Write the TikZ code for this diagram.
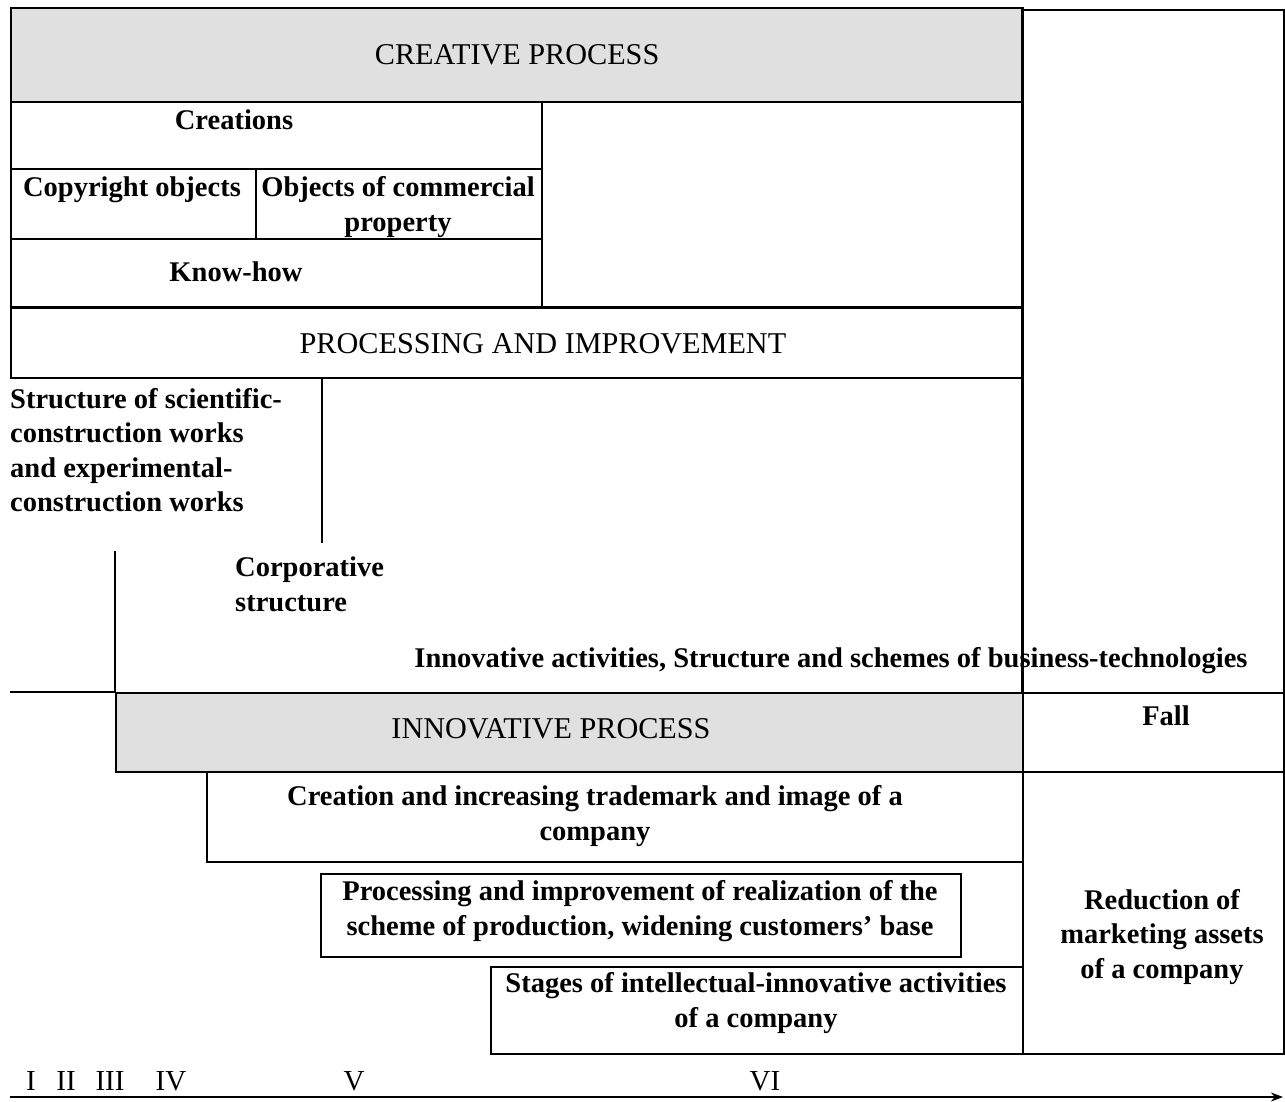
\documentclass[tikz,border=0pt]{standalone}
\usepackage{fontspec}
\setmainfont{Liberation Serif}
\usetikzlibrary{arrows.meta}
\definecolor{boxgray}{RGB}{224,224,224}
\begin{document}
\begin{tikzpicture}[x=1pt,y=-1pt,
  box/.style={draw, line width=2.2pt, inner sep=0pt, anchor=north west},
  gbox/.style={box, fill=boxgray},
  ln/.style={draw, line width=2.2pt},
  head/.style={font=\fontsize{30.2}{34}\selectfont, inner sep=0pt},
  body/.style={font=\fontsize{28.5}{34.5}\selectfont\bfseries, inner sep=0pt, align=center},
  num/.style={font=\fontsize{29}{34}\selectfont, inner sep=0pt}]
\useasboundingbox (0,0) rectangle (1285,1102);
% boxes
\node[gbox, minimum width=1012, minimum height=94] (creative) at (10,7) {};
\node[box, minimum width=261, minimum height=683] (rightcol) at (1022,9) {};
\node[box, minimum width=481, minimum height=205] (emptyr) at (541,101) {};
\node[box, minimum width=531, minimum height=67] (creations) at (10,101) {};
\node[box, minimum width=245, minimum height=70] (copyright) at (10,168) {};
\node[box, minimum width=286, minimum height=70] (commercial) at (255,168) {};
\node[box, minimum width=531, minimum height=68] (knowhow) at (10,238) {};
\node[box, minimum width=1012, minimum height=70] (processing) at (10,307) {};
\node[gbox, minimum width=907, minimum height=79] (innovative) at (115,692) {};
\node[box, minimum width=261, minimum height=79] (fall) at (1022,692) {};
\node[box, minimum width=261, minimum height=282] (reduction) at (1022,771) {};
\node[box, minimum width=816, minimum height=90] (trademark) at (206,771) {};
\node[box, minimum width=640, minimum height=83] (procreal) at (320,873) {};
\node[box, minimum width=532, minimum height=87] (stages) at (490,966) {};
% texts
\node[head] (tcreative) at (creative.center) {CREATIVE PROCESS};
\node[body] (tcreations) at (234,120) {Creations};
\node[body] (tcopyright) at (132,190) {Copyright objects};
\node[body] (tcommercial) at (398,207) {Objects of commercial\\property};
\node[body] (tknowhow) at (236,272) {Know-how};
\node[head] (tprocessing) at (543,344) {PROCESSING AND IMPROVEMENT};
\node[body, align=left, anchor=north west] (tstructure) at (10,388) {Structure of scientific-\\construction works\\and experimental-\\construction works};
\node[body, align=left, anchor=north west] (tcorp) at (235,557) {Corporative\\structure};
\node[body] (tinnact) at (831,661) {Innovative activities, Structure and schemes of business-technologies};
\node[head] (tinnovative) at (551,729) {INNOVATIVE PROCESS};
\node[body] (tfall) at (1166,716) {Fall};
\node[body] (treduction) at (1162,937) {Reduction of\\marketing assets\\of a company};
\node[body] (ttrademark) at (595,816) {Creation and increasing trademark and image of a\\company};
\node[body] (tprocreal) at (640,911) {Processing and improvement of realization of the\\scheme of production, widening customers' base};
\node[body] (tstages) at (756,1003) {Stages of intellectual-innovative activities\\of a company};
% lines
\draw[ln] (rightcol.north west) -- (rightcol.south west);
\coordinate (v1end) at (322,543);
\draw[ln] (processing.south -| v1end) -- (v1end);
\coordinate (v2start) at (115,551);
\draw[ln] (v2start) -- (innovative.north west);
\coordinate (hlstart) at (10,692);
\draw[ln] (hlstart) -- (innovative.north west);
% axis
\coordinate (axstart) at (10,1097);
\coordinate (axend) at (1283,1097);
\draw[ln, -{Stealth[length=12pt,width=9pt]}] (axstart) -- (axend);
\node[num] (n1) at (31,1081) {I};
\node[num] (n2) at (66,1081) {II};
\node[num] (n3) at (110,1081) {III};
\node[num] (n4) at (171,1081) {IV};
\node[num] (n5) at (354,1081) {V};
\node[num] (n6) at (765,1081) {VI};
\end{tikzpicture}
\end{document}
